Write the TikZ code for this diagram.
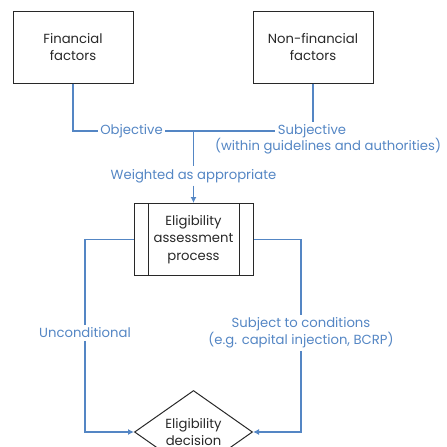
\documentclass[tikz,border=0pt]{standalone}
\usepackage{fontspec}
\setmainfont{Poppins}
\usetikzlibrary{shapes.geometric}
\usetikzlibrary{positioning}
\usetikzlibrary{arrows.meta}
\definecolor{linkblue}{RGB}{84,134,196}
\definecolor{boxline}{RGB}{40,40,40}
\tikzset{
    box/.style = {rectangle, draw=boxline, line width=1pt, align=center, minimum width=120pt, minimum height=72pt, inner sep=0pt, text=boxline},
    decbox/.style = {diamond, draw=boxline, line width=1pt, align=center, minimum width=118pt, minimum height=70pt, inner sep=0pt, text=boxline},
    lbl/.style = {align=center, text=linkblue, inner sep=2.5pt},
    link/.style = {draw=linkblue, line width=1.2pt},
    linka/.style = {-{Latex[length=6pt,width=6pt]}, draw=linkblue, line width=1.2pt} % arrow
}
\begin{document}
\begin{tikzpicture}[x=1pt,y=-1pt,font=\fontsize{13.2}{16.5}\selectfont]
\useasboundingbox (0,0) rectangle (447,447);
\clip (0,0) rectangle (447,447);
%
\node[box] at (73, 47) (fin) {Financial\\factors};
\node[box] at (313, 47) (nonfin) {Non-financial\\factors};
\node[box, minimum width=119pt, font=\fontsize{13.2}{17.5}\selectfont] at (193.5, 239.5) (proc) {Eligibility\\assessment\\process};
\node[decbox] at (193.5, 432) (dec) {Eligibility\\decision};
%
\node[lbl] at (312, 131) (subj) {Subjective};
\node[lbl, inner sep=0pt] at (328, 146) (guide) {(within guidelines and authorities)};
\node[lbl] at (131.5, 131) (obj) {Objective};
\node[lbl] at (193.5, 176) (wtd) {Weighted as appropriate};
\node[lbl] at (85, 333) (uncond) {Unconditional};
\node[lbl] at (301, 333) (cond) {Subject to conditions\\(e.g. capital injection, BCRP)};
\coordinate (junc) at (193.5, 131);
%
\draw[boxline, line width=1pt] ([xshift=14.5pt]proc.north west) -- ([xshift=14.5pt]proc.south west);
\draw[boxline, line width=1pt] ([xshift=-14.5pt]proc.north east) -- ([xshift=-14.5pt]proc.south east);
%
\draw[link] (fin.south) |- (obj.west);
\draw[link] (obj.east) -- (subj.west);
\draw[link] (nonfin.south) -- (nonfin.south |- subj.north);
\draw[link] (junc) -- (wtd.north);
\draw[linka] (wtd.south) -- (proc.north);
\draw[link] (proc.west) -| (uncond.north);
\draw[linka] (uncond.south) |- (dec.west);
\draw[link] (proc.east) -| (cond.north);
\draw[linka] (cond.south) |- (dec.east);

\end{tikzpicture}
\end{document}
